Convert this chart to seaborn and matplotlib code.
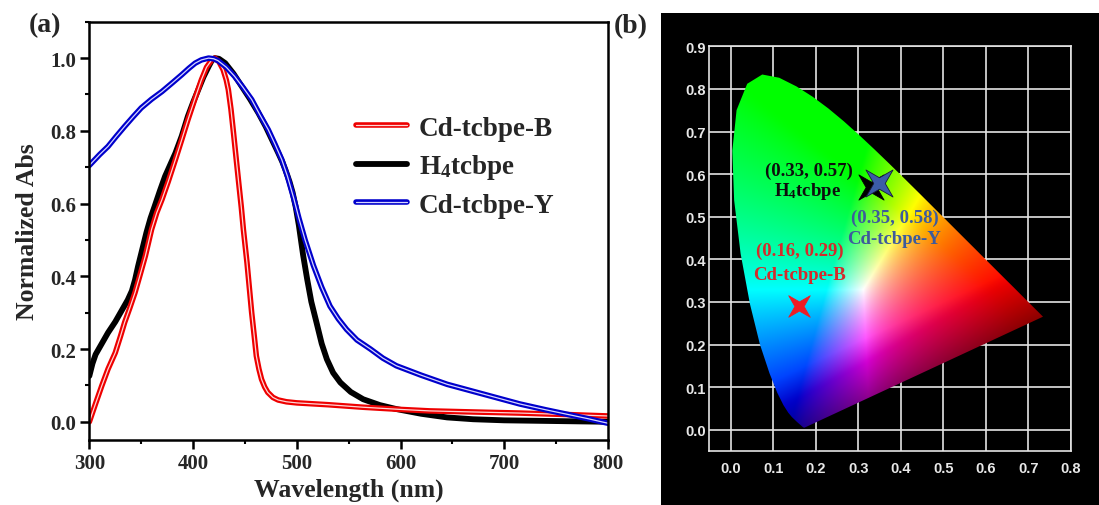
import numpy as np
import pandas as pd
import matplotlib
matplotlib.use("Agg")
import matplotlib.pyplot as plt
import matplotlib.patheffects as pe
from matplotlib.path import Path
from matplotlib.patches import Polygon, Rectangle
from matplotlib.ticker import MultipleLocator, FormatStrFormatter
import seaborn as sns

# ---------------- data: panel (a) normalized absorption ----------------
wl_red = [300, 306, 312, 318, 325, 330, 334, 339, 344, 349, 354, 360, 365, 370, 376, 383,
          389, 395, 402, 408, 413, 418, 421, 425, 429, 432, 434, 436.5, 439, 441.5, 444,
          446.5, 448.5, 452, 456.5, 459, 461, 463.5, 466, 469, 472, 477, 482, 490, 500,
          530, 564, 600, 628, 670, 715, 760, 800]
abs_red = [0.0, 0.05, 0.099, 0.145, 0.19, 0.235, 0.273, 0.313, 0.355, 0.405, 0.456, 0.529,
           0.575, 0.611, 0.66, 0.721, 0.775, 0.83, 0.89, 0.94, 0.975, 0.995, 1.0, 0.99,
           0.968, 0.94, 0.913, 0.86, 0.794, 0.725, 0.657, 0.59, 0.529, 0.437, 0.30, 0.235,
           0.181, 0.145, 0.117, 0.096, 0.081, 0.067, 0.06, 0.055, 0.052, 0.047, 0.040,
           0.034, 0.030, 0.027, 0.024, 0.020, 0.016]

wl_black = [300, 303, 306, 312, 318, 325, 331, 337, 341, 344, 347, 351, 355, 359, 363, 368,
            373, 378, 383, 389, 395, 400, 405, 410, 415, 418, 421, 425, 431, 439, 447, 455,
            463, 470, 476, 482, 486, 489, 493, 496, 499, 502, 506, 510, 514, 519, 524, 529,
            535, 542, 552, 564, 580, 596, 620, 645, 670, 700, 750, 800]
abs_black = [0.126, 0.16, 0.185, 0.215, 0.245, 0.275, 0.305, 0.335, 0.36, 0.39, 0.428,
             0.474, 0.52, 0.56, 0.593, 0.635, 0.675, 0.707, 0.739, 0.785, 0.84, 0.878,
             0.913, 0.948, 0.977, 0.993, 1.0, 0.998, 0.986, 0.957, 0.922, 0.887, 0.849,
             0.812, 0.776, 0.74, 0.715, 0.693, 0.66, 0.63, 0.59, 0.54, 0.46, 0.392, 0.33,
             0.273, 0.215, 0.172, 0.135, 0.108, 0.082, 0.062, 0.046, 0.035, 0.022, 0.012,
             0.007, 0.004, 0.002, 0.0]

wl_blue = [300, 310, 318, 326, 334, 342, 350, 360, 370, 380, 389, 396, 402, 408, 415, 420,
           424, 432, 440, 448, 456.5, 464, 472.5, 479, 485.5, 491, 497, 502, 508, 516, 524,
           532, 540, 548, 558, 571, 583, 596, 620, 645, 680, 715, 740, 760, 780, 800]
abs_blue = [0.705, 0.735, 0.757, 0.785, 0.812, 0.838, 0.863, 0.887, 0.908, 0.932, 0.954,
            0.972, 0.986, 0.995, 1.0, 0.998, 0.993, 0.975, 0.95, 0.92, 0.886, 0.846, 0.803,
            0.763, 0.721, 0.675, 0.615, 0.56, 0.5, 0.43, 0.37, 0.318, 0.283, 0.254, 0.225,
            0.20, 0.175, 0.154, 0.128, 0.103, 0.076, 0.049, 0.033, 0.021, 0.009, -0.004]

series_names = ["Cd-tcbpe-B", r"H$_{\mathregular{4}}$tcbpe", "Cd-tcbpe-Y"]

# ---------------- data: panel (b) CIE 1931 chromaticity ----------------
locus_x = [0.1741, 0.1738, 0.1733, 0.1726, 0.1714, 0.1689, 0.1644, 0.1566, 0.1440, 0.1355,
           0.1241, 0.1096, 0.0913, 0.0687, 0.0454, 0.0235, 0.0082, 0.0039, 0.0139, 0.0389,
           0.0743, 0.1142, 0.1547, 0.1929, 0.2296, 0.2658, 0.3016, 0.3373, 0.3731, 0.4087,
           0.4441, 0.4788, 0.5125, 0.5448, 0.5752, 0.6029, 0.6270, 0.6482, 0.6658, 0.6801,
           0.6915, 0.7006, 0.7079, 0.7140, 0.7190, 0.7230, 0.7260, 0.7300, 0.7320, 0.7347]
locus_y = [0.0050, 0.0049, 0.0048, 0.0048, 0.0051, 0.0069, 0.0109, 0.0177, 0.0297, 0.0399,
           0.0578, 0.0868, 0.1327, 0.2007, 0.2950, 0.4127, 0.5384, 0.6548, 0.7502, 0.8120,
           0.8338, 0.8262, 0.8059, 0.7816, 0.7543, 0.7243, 0.6923, 0.6589, 0.6245, 0.5896,
           0.5547, 0.5202, 0.4866, 0.4544, 0.4242, 0.3965, 0.3725, 0.3514, 0.3340, 0.3197,
           0.3083, 0.2993, 0.2920, 0.2859, 0.2809, 0.2770, 0.2740, 0.2700, 0.2680, 0.2653]

cie_x = [0.33, 0.35, 0.16]
cie_y = [0.57, 0.58, 0.29]
cie_coord_labels = ["(0.33, 0.57)", "(0.35, 0.58)", "(0.16, 0.29)"]
cie_names = [r"H$_{\mathregular{4}}$tcbpe", "Cd-tcbpe-Y", "Cd-tcbpe-B"]

# ---------------- style ----------------
sns.set_theme(style="ticks")
plt.rcParams["font.family"] = ["Liberation Serif", "DejaVu Serif"]
plt.rcParams["font.weight"] = "bold"
plt.rcParams["axes.labelweight"] = "bold"
plt.rcParams["mathtext.fontset"] = "custom"
plt.rcParams["mathtext.rm"] = "Liberation Serif:bold"
plt.rcParams["mathtext.it"] = "Liberation Serif:bold:italic"
plt.rcParams["mathtext.bf"] = "Liberation Serif:bold"

fig = plt.figure(figsize=(10.99, 5.06), dpi=100)
fig.patch.set_facecolor("white")

# ================= panel (a) =================
ax = fig.add_axes([0.0813, 0.1285, 0.4719, 0.8266])
ax.set_facecolor("white")

def hollow(color, width):
    return [pe.Stroke(linewidth=width, foreground=color, capstyle="round",
                      joinstyle="round"), pe.Normal()]

sns.lineplot(x=wl_black, y=abs_black, ax=ax, color="black", lw=4.2, sort=False,
             estimator=None, label=series_names[1], solid_joinstyle="round")
sns.lineplot(x=wl_red, y=abs_red, ax=ax, color="#ffd6d6", lw=0.9, sort=False,
             estimator=None, label=series_names[0], path_effects=hollow("#ee0000", 4.0))
sns.lineplot(x=wl_blue, y=abs_blue, ax=ax, color="#d6d6ff", lw=0.9, sort=False,
             estimator=None, label=series_names[2], path_effects=hollow("#0000cc", 4.0))

handles = {ln.get_label(): ln for ln in ax.get_lines()}
leg = ax.legend([handles[n] for n in series_names], series_names, loc="upper left",
                bbox_to_anchor=(0.515, 0.775), frameon=False, fontsize=19.5,
                handlelength=1.85, handletextpad=0.45, labelspacing=0.42,
                borderaxespad=0, borderpad=0)
for t in leg.get_texts():
    t.set_fontweight("bold")

ax.set_xlim(300, 800)
ax.set_ylim(-0.05, 1.1)
ax.xaxis.set_major_locator(MultipleLocator(100))
ax.xaxis.set_minor_locator(MultipleLocator(50))
ax.yaxis.set_major_locator(MultipleLocator(0.2))
ax.yaxis.set_minor_locator(MultipleLocator(0.1))
ax.yaxis.set_major_formatter(FormatStrFormatter("%.1f"))
ax.set_ylim(-0.05, 1.1)
ax.tick_params(which="both", direction="out", top=False, right=False, color="black")
ax.tick_params(which="major", length=6.2, width=1.8, labelsize=15, pad=3.5)
ax.tick_params(which="minor", length=3.2, width=1.5)
for lab in ax.get_xticklabels() + ax.get_yticklabels():
    lab.set_fontweight("bold")
for sp in ax.spines.values():
    sp.set_visible(True)
    sp.set_linewidth(1.8)
    sp.set_color("black")
ax.set_xlabel("Wavelength (nm)", fontsize=18.5, fontweight="bold", labelpad=3)
ax.set_ylabel("Normalized Abs", fontsize=18.5, fontweight="bold", labelpad=8)

# ================= panel (b) =================
bg = Rectangle((0.6012, 0.0), 0.3988, 0.9723, transform=fig.transFigure,
               facecolor="black", edgecolor="none", zorder=-5)
fig.patches.append(bg)

ax2 = fig.add_axes([0.6455, 0.1067, 0.3288, 0.7998])
ax2.set_facecolor("black")
ax2.set_xlim(-0.05, 0.8)
ax2.set_ylim(-0.05, 0.9)
ax2.set_xticks(np.round(np.arange(0.0, 0.81, 0.1), 1))
ax2.set_yticks(np.round(np.arange(0.0, 0.91, 0.1), 1))
ax2.xaxis.set_major_formatter(FormatStrFormatter("%.1f"))
ax2.yaxis.set_major_formatter(FormatStrFormatter("%.1f"))
ax2.tick_params(length=0, labelsize=10.5, labelcolor="#e8e8e8", pad=2.5)
ax2.tick_params(axis="x", pad=7)
for lab in ax2.get_xticklabels() + ax2.get_yticklabels():
    lab.set_fontfamily(["Liberation Sans", "DejaVu Sans"])
    lab.set_fontweight("bold")
ax2.grid(True, color="#e4e4e4", lw=1.2)
ax2.set_axisbelow(True)
for sp in ax2.spines.values():
    sp.set_color("#e4e4e4")
    sp.set_linewidth(1.2)

# chromaticity colour field
gx = np.linspace(-0.05, 0.8, 500)
gy = np.linspace(-0.05, 0.9, 560)
GX, GY = np.meshgrid(gx, gy)
Yd = np.clip(GY, 1e-3, None)
XYZ = np.stack([GX / Yd, np.ones_like(GX), (1 - GX - GY) / Yd], axis=-1)
M = np.array([[3.2406, -1.5372, -0.4986],
              [-0.9689, 1.8758, 0.0415],
              [0.0557, -0.2040, 1.0570]])
rgb = XYZ @ M.T
rgb = np.clip(rgb, 0, None)
rgb = rgb / (rgb.max(axis=-1, keepdims=True) + 1e-9)
rgb = np.power(rgb, 1.7)
# darken towards the line of purples
p0 = np.array([locus_x[0], locus_y[0]])
p1 = np.array([locus_x[-1], locus_y[-1]])
dvec = (p1 - p0) / np.linalg.norm(p1 - p0)
nvec = np.array([-dvec[1], dvec[0]])
dist = (GX - p0[0]) * nvec[0] + (GY - p0[1]) * nvec[1]
shade = 0.55 + 0.45 * np.clip(dist / 0.13, 0, 1)
rgb = rgb * shade[..., None] ** 2.2
rgb = np.where(rgb <= 0.0031308, 12.92 * rgb, 1.055 * np.power(rgb, 1 / 2.4) - 0.055)
rgb = np.clip(rgb, 0, 1)

poly = Polygon(np.column_stack([locus_x, locus_y]), closed=True, facecolor="none",
               edgecolor="none", transform=ax2.transData)
ax2.add_patch(poly)
im = ax2.imshow(rgb, extent=(-0.05, 0.8, -0.05, 0.9), origin="lower", aspect="auto",
                interpolation="bilinear", zorder=2)
im.set_clip_path(poly)

# star markers
star_verts = []
for k in range(8):
    ang = np.pi / 4 + k * np.pi / 4
    r = 1.0 if k % 2 == 0 else 0.3
    star_verts.append((r * np.cos(ang), r * np.sin(ang)))
star_verts.append(star_verts[0])
star = Path(star_verts, closed=True)

star_face = ["#000000", "#3c5ca8", "#ee1c24"]
star_edge = ["#000000", "#151a3a", "#ee1c24"]
star_size = [330, 380, 240]
for i in range(3):
    sns.scatterplot(x=[cie_x[i]], y=[cie_y[i]], ax=ax2, marker=star, s=star_size[i],
                    color=star_face[i], edgecolor=star_edge[i], linewidth=0.6, zorder=5,
                    legend=False)

txt_color = ["#0d0d0d", "#3d5b9c", "#d42b2b"]
txt_pos = [((0.183, 0.608), (0.180, 0.561)),
           ((0.387, 0.499), (0.385, 0.450)),
           ((0.163, 0.420), (0.163, 0.365))]
for i in range(3):
    (x1, y1), (x2, y2) = txt_pos[i]
    ax2.text(x1, y1, cie_coord_labels[i], color=txt_color[i], fontsize=13.5,
             fontweight="bold", ha="center", va="center", zorder=6)
    ax2.text(x2, y2, cie_names[i], color=txt_color[i], fontsize=13.5,
             fontweight="bold", ha="center", va="center", zorder=6)

# panel letters
fig.text(45 / 1099, 1 - 26 / 506, "(a)", fontsize=20, fontweight="bold",
         ha="center", va="center")
fig.text(631 / 1099, 1 - 27 / 506, "(b)", fontsize=20, fontweight="bold",
         ha="center", va="center")

fig.savefig("out.png", dpi=100, facecolor="white")
